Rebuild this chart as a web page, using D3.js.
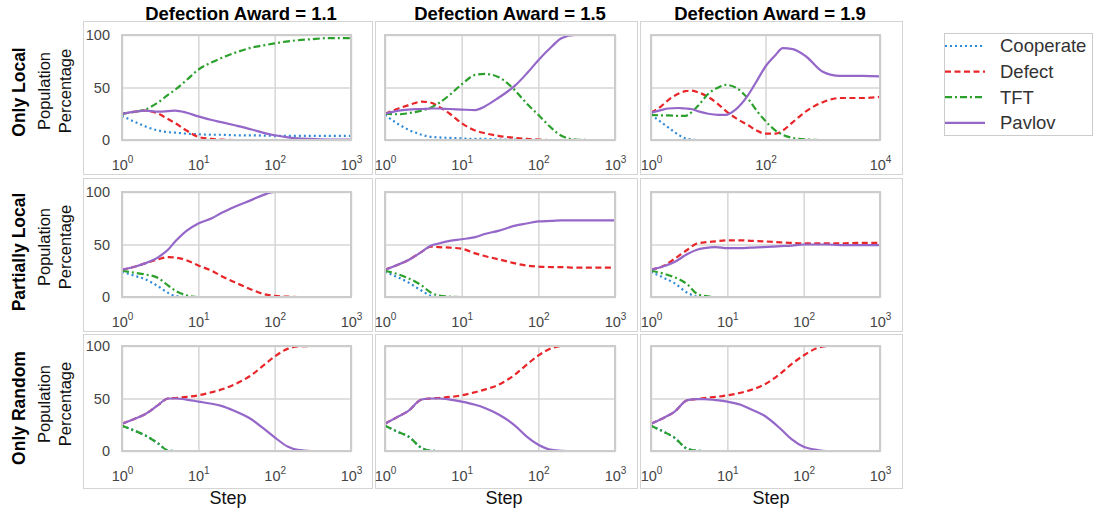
<!DOCTYPE html>
<html>
<head>
<meta charset="utf-8">
<script src="https://cdn.jsdelivr.net/npm/d3@7"></script>
<style>
  html, body { margin: 0; padding: 0; background: #fff; }
  svg { display: block; font-family: "Liberation Sans", Arial, Helvetica, sans-serif; }
</style>
</head>
<body>
<svg id="chart" width="1094" height="510"></svg>
<script>
// ---------------- DATA ----------------
const strategies = ["Cooperate", "Defect", "TFT", "Pavlov"];
const columnTitles = ["Defection Award = 1.1", "Defection Award = 1.5", "Defection Award = 1.9"];
const rowTitles = ["Only Local", "Partially Local", "Only Random"];
const yTickValues = [0, 50, 100];
const xTicks3 = [1, 10, 100, 1000];
const xTicks4 = [1, 100, 10000];

const steps3 = [1, 1.5, 2, 3, 4, 5, 7, 10, 15, 20, 30, 50, 70, 100, 150, 200, 300, 500, 700, 1000];
const steps4 = [1, 1.5, 2, 3, 4, 5, 7, 10, 15, 20, 30, 50, 70, 100, 150, 200, 300, 500, 1000, 2000, 5000, 10000];

// Row 1: Only Local
const local11Cooperate = [23, 17, 13, 9, 7.5, 7, 6, 5.5, 5, 5, 4.5, 4.5, 4.2, 4, 4, 4, 4, 4, 4, 4];
const local11Defect    = [25, 27, 28, 25, 20, 16, 9, 3, 1, 0.3, 0, 0, 0, 0, 0, 0, 0, 0, 0, 0];
const local11TFT       = [25, 27, 29, 36, 43, 48, 57, 67, 74, 78, 83, 88, 90, 92, 94, 95, 96, 97, 97, 97];
const local11Pavlov    = [25, 27, 28, 27, 27.5, 28, 26, 22.5, 19, 17, 14, 10, 7, 4.5, 2.5, 1.5, 1, 0.5, 0.5, 0.5];

const local15Cooperate = [24, 15, 10, 5, 3, 2.5, 2, 1.5, 1, 1, 0.5, 0.3, 0.2, 0, 0, 0, 0, 0, 0, 0];
const local15Defect    = [25, 30, 33, 36.5, 35.5, 32, 25, 16, 9, 6.5, 4, 2, 1, 0.5, 0, 0, 0, 0, 0, 0];
const local15TFT       = [25, 24.5, 25.5, 28, 31, 35, 43, 53, 62, 63, 60, 47, 35, 24, 11, 4, 0.5, 0, 0, 0];
const local15Pavlov    = [25, 28, 29, 29.5, 30, 30, 29.5, 29, 28.5, 32, 40, 52, 63, 76, 89, 97, 100, 100, 100, 100];

const local19Cooperate = [24, 17, 12, 5, 1.5, 0.5, 0, 0, 0, 0, 0, 0, 0, 0, 0, 0, 0, 0, 0, 0, 0, 0];
const local19Defect    = [26, 32, 38, 44, 46.5, 47, 45, 41, 34, 28, 21, 14, 9, 6, 6, 9, 17, 27, 36, 40, 40, 41];
const local19TFT       = [24, 23.5, 23.5, 23, 23, 26, 34, 44, 50, 52.5, 50, 39, 28, 18, 9, 5, 2, 0.5, 0, 0, 0, 0];
const local19Pavlov    = [26, 28.5, 30, 30.5, 30, 29.5, 27, 25, 24, 24, 29, 43, 56, 70, 81, 87.5, 86.5, 80, 65, 61, 61, 60.5];

// Row 2: Partially Local
const partial11Cooperate = [24, 20, 17, 10, 4, 1, 0, 0, 0, 0, 0, 0, 0, 0, 0, 0, 0, 0, 0, 0];
const partial11Defect    = [26, 29, 32, 36, 38, 37.5, 35, 30, 25, 20, 14, 7, 3, 1, 0.3, 0, 0, 0, 0, 0];
const partial11TFT       = [25, 23, 21.5, 18, 11, 6, 1.6, 0, 0, 0, 0, 0, 0, 0, 0, 0, 0, 0, 0, 0];
const partial11Pavlov    = [26, 29, 32, 38, 45, 53, 63, 70, 75, 80, 86, 92.5, 97, 100, 100, 100, 100, 100, 100, 100];

const partial15Cooperate = [24, 18.5, 14, 6, 1, 0, 0, 0, 0, 0, 0, 0, 0, 0, 0, 0, 0, 0, 0, 0];
const partial15Defect    = [26, 31, 35, 43, 48, 47.5, 47, 46, 41.5, 39, 36, 32, 30, 29, 28.5, 28.5, 28, 28, 28, 28];
const partial15TFT       = [25, 21.5, 18, 11, 4, 1.5, 0.3, 0, 0, 0, 0, 0, 0, 0, 0, 0, 0, 0, 0, 0];
const partial15Pavlov    = [26, 31, 35, 43, 49, 51, 53.5, 55, 57, 60, 63, 68, 70, 72, 72.5, 73, 73, 73, 73, 73];

const partial19Cooperate = [24, 18, 13.5, 4, 0.5, 0, 0, 0, 0, 0, 0, 0, 0, 0, 0, 0, 0, 0, 0, 0];
const partial19Defect    = [26, 30, 36, 45, 51, 52, 53, 54, 54, 53.5, 53, 52, 51.5, 51, 51, 51, 51, 51.5, 51.5, 51.5];
const partial19TFT       = [25, 22, 19, 12, 3, 1, 0, 0, 0, 0, 0, 0, 0, 0, 0, 0, 0, 0, 0, 0];
const partial19Pavlov    = [26, 29.5, 33, 41, 45, 46.5, 47.5, 46.5, 46.5, 47, 47.5, 48.5, 49, 50, 50, 50, 49.5, 49.5, 49.5, 49.5];

// Row 3: Only Random
const random11Cooperate = [24, 19, 15, 7, 0.5, 0, 0, 0, 0, 0, 0, 0, 0, 0, 0, 0, 0, 0, 0, 0];
const random11Defect    = [26, 31, 35, 44, 50, 50.5, 51.5, 53, 56, 58.5, 63.5, 72.5, 81, 90, 97.5, 99.5, 100, 100, 100, 100];
const random11TFT       = [24, 19, 15, 7, 0.5, 0, 0, 0, 0, 0, 0, 0, 0, 0, 0, 0, 0, 0, 0, 0];
const random11Pavlov    = [26, 31, 35, 44, 50, 50, 49, 47, 45, 43, 38, 30, 22, 13, 4, 1, 0, 0, 0, 0];

const random15Cooperate = [24, 18, 14, 3, 0.3, 0, 0, 0, 0, 0, 0, 0, 0, 0, 0, 0, 0, 0, 0, 0];
const random15Defect    = [26, 33, 38, 49, 50, 50.5, 51.5, 53, 56, 58.5, 63, 73, 82, 91, 98, 100, 100, 100, 100, 100];
const random15TFT       = [24, 18, 14, 3, 0.3, 0, 0, 0, 0, 0, 0, 0, 0, 0, 0, 0, 0, 0, 0, 0];
const random15Pavlov    = [26, 33, 38, 49, 50, 50, 49, 47, 44, 41, 35, 24, 14, 6, 1, 0.2, 0, 0, 0, 0];

const random19Cooperate = [24, 18, 13, 2, 0.3, 0, 0, 0, 0, 0, 0, 0, 0, 0, 0, 0, 0, 0, 0, 0];
const random19Defect    = [26, 32, 37, 48.5, 49.5, 50.5, 51.5, 53, 55.5, 58, 63, 74, 83, 91, 98, 100, 100, 100, 100, 100];
const random19TFT       = [24, 18, 13, 2, 0.3, 0, 0, 0, 0, 0, 0, 0, 0, 0, 0, 0, 0, 0, 0, 0];
const random19Pavlov    = [26, 32, 37, 48.5, 49.5, 49.5, 48.5, 47, 44, 40, 34, 21, 11, 4, 1, 0, 0, 0, 0, 0];

// table built from the arrays above
const panels = [
  [ {steps: steps3, ticks: xTicks3, s: [local11Cooperate, local11Defect, local11TFT, local11Pavlov]},
    {steps: steps3, ticks: xTicks3, s: [local15Cooperate, local15Defect, local15TFT, local15Pavlov]},
    {steps: steps4, ticks: xTicks4, s: [local19Cooperate, local19Defect, local19TFT, local19Pavlov]} ],
  [ {steps: steps3, ticks: xTicks3, s: [partial11Cooperate, partial11Defect, partial11TFT, partial11Pavlov]},
    {steps: steps3, ticks: xTicks3, s: [partial15Cooperate, partial15Defect, partial15TFT, partial15Pavlov]},
    {steps: steps3, ticks: xTicks3, s: [partial19Cooperate, partial19Defect, partial19TFT, partial19Pavlov]} ],
  [ {steps: steps3, ticks: xTicks3, s: [random11Cooperate, random11Defect, random11TFT, random11Pavlov]},
    {steps: steps3, ticks: xTicks3, s: [random15Cooperate, random15Defect, random15TFT, random15Pavlov]},
    {steps: steps3, ticks: xTicks3, s: [random19Cooperate, random19Defect, random19TFT, random19Pavlov]} ]
];

// ---------------- LAYOUT / STYLE ----------------
const colX = [[122, 351], [385, 615], [651, 880]];
const rowY = [[35, 140], [192, 297], [346, 451]];
const frameX = [[83, 372], [375, 637], [640, 902]];
const frameY = [[21, 174], [178, 331], [334, 488]];
const titleX = [241, 510, 770];
const stepX = [228, 504, 771];
const rowLabelY = [92, 252, 408];
const popLabelY = [91, 247, 404];

const styles = {
  Cooperate: {color: "#2f8ad8", dash: "2,3"},
  Defect:    {color: "#e8262a", dash: "6,3.5"},
  TFT:       {color: "#2ca02c", dash: "7,3,2,3"},
  Pavlov:    {color: "#9467c9", dash: null}
};
const gridColor = "#d6d6d6";
const borderColor = "#cccccc";
const tickColor = "#444";

const svg = d3.select("#chart");
svg.append("rect").attr("width", 1094).attr("height", 510).attr("fill", "#fff");

for (let r = 0; r < 3; r++) {
  for (let c = 0; c < 3; c++) {
    const p = panels[r][c];
    // outer frame
    svg.append("rect")
      .attr("x", frameX[c][0] + 0.5).attr("y", frameY[r][0] + 0.5)
      .attr("width", frameX[c][1] - frameX[c][0]).attr("height", frameY[r][1] - frameY[r][0])
      .attr("fill", "none").attr("stroke", "#d4d4d4").attr("stroke-width", 1);

    const x = d3.scaleLog().domain([p.ticks[0], p.ticks[p.ticks.length - 1]]).range(colX[c]);
    const y = d3.scaleLinear().domain([0, 100]).range([rowY[r][1], rowY[r][0]]);
    const w = colX[c][1] - colX[c][0];
    const h = rowY[r][1] - rowY[r][0];
    const g = svg.append("g");

    // grid
    g.append("g").attr("transform", `translate(0,${rowY[r][1]})`)
      .call(d3.axisBottom(x).tickValues(p.ticks).tickSize(-h).tickFormat(""))
      .call(s => s.select(".domain").remove())
      .call(s => s.selectAll(".tick line").attr("stroke", gridColor).attr("stroke-width", 1.5));
    g.append("g").attr("transform", `translate(${colX[c][0]},0)`)
      .call(d3.axisLeft(y).tickValues(yTickValues).tickSize(-w).tickFormat(""))
      .call(s => s.select(".domain").remove())
      .call(s => s.selectAll(".tick line").attr("stroke", gridColor).attr("stroke-width", 1.5));

    // lines
    const line = d3.line().x(d => x(d[0])).y(d => y(d[1])).curve(d3.curveMonotoneX);
    strategies.forEach((name, i) => {
      const pts = p.steps.map((st, k) => [st, p.s[i][k]]);
      const path = g.append("path").datum(pts)
        .attr("d", line).attr("fill", "none")
        .attr("stroke", styles[name].color).attr("stroke-width", 2.2);
      if (styles[name].dash) path.attr("stroke-dasharray", styles[name].dash);
    });

    // plot border
    g.append("rect").attr("x", colX[c][0]).attr("y", rowY[r][0]).attr("width", w).attr("height", h)
      .attr("fill", "none").attr("stroke", borderColor).attr("stroke-width", 2);

    // x tick labels
    const xa = g.append("g").attr("transform", `translate(0,${rowY[r][1]})`)
      .call(d3.axisBottom(x).tickValues(p.ticks).tickSize(0).tickPadding(20).tickFormat(""));
    xa.select(".domain").remove();
    xa.selectAll(".tick text").each(function(d) {
      const t = d3.select(this).attr("fill", tickColor).attr("font-size", 14.5)
        .attr("font-family", "Liberation Sans, Arial, sans-serif");
      t.append("tspan").text("10");
      t.append("tspan").attr("dy", -7).attr("font-size", 10).text(Math.round(Math.log10(d)));
    });

    // y tick labels (left column only)
    if (c === 0) {
      const ya = g.append("g").attr("transform", `translate(${colX[c][0]},0)`)
        .call(d3.axisLeft(y).tickValues(yTickValues).tickSize(0).tickPadding(12));
      ya.select(".domain").remove();
      ya.selectAll(".tick text").attr("fill", tickColor).attr("font-size", 14.5)
        .attr("font-family", "Liberation Sans, Arial, sans-serif");
    }
  }
}

// column titles
columnTitles.forEach((t, c) => {
  svg.append("text").attr("x", titleX[c]).attr("y", 20).attr("text-anchor", "middle")
    .attr("font-size", 18.5).attr("font-weight", "bold").attr("fill", "#000").text(t);
});

// row labels
rowTitles.forEach((t, r) => {
  svg.append("text").attr("transform", `translate(25,${rowLabelY[r]}) rotate(-90)`)
    .attr("text-anchor", "middle").attr("font-size", 17.5).attr("font-weight", "bold")
    .attr("fill", "#000").text(t);
  svg.append("text").attr("transform", `translate(50,${popLabelY[r]}) rotate(-90)`)
    .attr("text-anchor", "middle").attr("font-size", 16.5).attr("fill", "#111").text("Population");
  svg.append("text").attr("transform", `translate(71,${popLabelY[r]}) rotate(-90)`)
    .attr("text-anchor", "middle").attr("font-size", 16.5).attr("fill", "#111").text("Percentage");
});

// x axis titles
stepX.forEach(sx => {
  svg.append("text").attr("x", sx).attr("y", 504).attr("text-anchor", "middle")
    .attr("font-size", 18).attr("fill", "#111").text("Step");
});

// legend
const lg = svg.append("g");
lg.append("rect").attr("x", 944.5).attr("y", 33.5).attr("width", 148).attr("height", 102)
  .attr("fill", "#fff").attr("stroke", "#cccccc").attr("stroke-width", 1);
strategies.forEach((name, i) => {
  const yy = 46 + i * 25.6;
  const ln = lg.append("line").attr("x1", 945).attr("x2", 985).attr("y1", yy).attr("y2", yy)
    .attr("stroke", styles[name].color).attr("stroke-width", 2.2);
  if (styles[name].dash) ln.attr("stroke-dasharray", styles[name].dash);
  lg.append("text").attr("x", 1000).attr("y", yy).attr("dy", "0.35em")
    .attr("font-size", 18.5).attr("fill", "#333").text(name);
});
</script>
</body>
</html>
